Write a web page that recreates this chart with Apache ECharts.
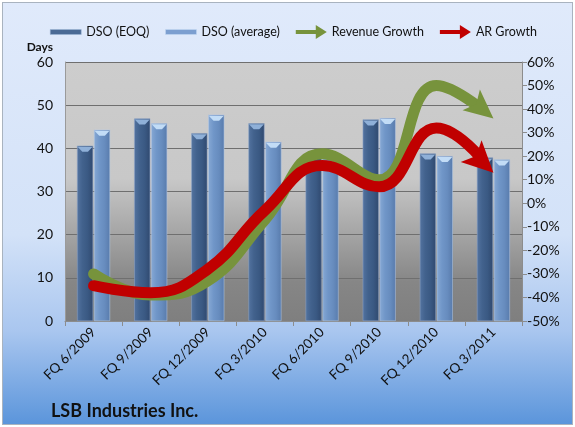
<!DOCTYPE html>
<html>
<head>
<meta charset="utf-8">
<script src="https://cdn.jsdelivr.net/npm/echarts@6/dist/echarts.min.js"></script>
<style>
  html, body { margin: 0; padding: 0; background: #fff; }
  #frame {
    position: absolute; left: 2px; top: 2px; width: 571px; height: 423px;
    box-sizing: border-box; border: 1px solid #a9b3bf;
    background: linear-gradient(to bottom, #e0eafb 0%, #d3e2f8 55%, #a9c6ef 78%, #5b95db 100%);
  }
  #chart { position: absolute; left: 0; top: 0; width: 575px; height: 427px; }
</style>
</head>
<body>
<div id="frame"></div>
<div id="chart"></div>
<script>
// trimestres
const quarters = ["FQ 6/2009", "FQ 9/2009", "FQ 12/2009", "FQ 3/2010",
  "FQ 6/2010", "FQ 9/2010", "FQ 12/2010", "FQ 3/2011"];

// DSO en dias (eje izquierdo)
const dsoEoq = [40.6, 46.9, 43.5, 45.8, 38.8, 46.7, 38.8, 37.9];
const dsoAvg = [44.3, 45.8, 47.8, 41.5, 39.0, 47.0, 38.2, 37.4];

// crecimiento en % (eje derecho)
const revenueGrowth = [-30, -39, -33, -7, 21, 10, 50, 36];
const arGrowth = [-35, -38, -28, -3, 16, 7, 32, 13];

const leftTicks = [0, 10, 20, 30, 40, 50, 60];
const rightTicks = [-50, -40, -30, -20, -10, 0, 10, 20, 30, 40, 50, 60];

const font = "Lato";
const green = "#77933c";
const red = "#c00000";

function hGrad(stops) {
  return new echarts.graphic.LinearGradient(0, 0, 1, 0,
    stops.map((c, i) => ({ offset: i / (stops.length - 1), color: c })));
}

// punta de flecha apuntando hacia arriba
const headPath = "path://M10,0 L20,20 L10,15.5 L0,20 Z";
const arrowIcon = "path://M0,5 L20,5 L20,0 L31,7 L20,14 L20,9 L0,9 Z";
const rectIcon = "path://M0,0 L31,0 L31,5 L0,5 Z";
const capSymbol = "path://M0,0 L16,0 L11,5 L5,5 Z";

// linea con flecha al final; la punta cae en el ultimo valor
function arrowSeries(name, values, color, width, angleDeg, headSize, tip, z) {
  const a = angleDeg * Math.PI / 180;
  const dx = Math.cos(a), dy = Math.sin(a);
  const back = headSize[1] / 2;
  let lineColor = color;
  if (tip) {
    // ocultar la cola de la linea dentro de la punta
    const L = 40;
    const cut = back + 1.5;
    lineColor = new echarts.graphic.LinearGradient(
      tip[0] - L * dx, tip[1] - L * dy, tip[0], tip[1],
      [
        { offset: 0, color: color },
        { offset: (L - cut) / L, color: color },
        { offset: (L - cut) / L + 0.001, color: "rgba(0,0,0,0)" },
        { offset: 1, color: "rgba(0,0,0,0)" },
      ], true);
  }
  return {
    name: name,
    type: "line",
    yAxisIndex: 1,
    smooth: 0.45,
    showAllSymbol: true,
    data: values.map((v, i) =>
      i === values.length - 1
        ? { value: v, symbol: headPath, symbolSize: headSize, symbolRotate: -(90 + angleDeg),
            symbolOffset: [-back * dx, -back * dy] }
        : { value: v, symbol: "none" }),
    lineStyle: { color: lineColor, width: width, cap: "round" },
    itemStyle: { color: color, borderWidth: 0 },
    z: z,
  };
}

function buildOption(greenTip, redTip) {
  return {
    backgroundColor: "transparent",
    animation: false,
    textStyle: { fontFamily: font },
    legend: {
      top: 20,
      left: 45,
      itemWidth: 31,
      itemHeight: 14,
      itemGap: 16,
      textStyle: { fontSize: 12.5, color: "#111", fontFamily: font },
      data: [
        { name: "DSO (EOQ)", icon: rectIcon, itemStyle: { color: "#4a6a95", borderColor: "#9bb4d4", borderWidth: 0.5 } },
        { name: "DSO (average)", icon: rectIcon, itemStyle: { color: "#7c9fd0", borderColor: "#c5daf2", borderWidth: 0.5 } },
        { name: "Revenue Growth", icon: arrowIcon, itemStyle: { color: green } },
        { name: "AR Growth", icon: arrowIcon, itemStyle: { color: red } },
      ],
    },
    title: {
      text: "LSB Industries Inc.",
      left: 46,
      top: 397,
      textStyle: { fontSize: 18, fontWeight: "bold", color: "#111", fontFamily: font },
    },
    grid: {
      left: 65,
      right: 53,
      top: 62,
      bottom: 106,
      show: true,
      borderWidth: 0,
      backgroundColor: new echarts.graphic.LinearGradient(0, 0, 0, 1, [
        { offset: 0, color: "#cdcdcd" },
        { offset: 0.45, color: "#c8c8c8" },
        { offset: 0.85, color: "#868686" },
        { offset: 1, color: "#7f7f7f" },
      ]),
    },
    xAxis: {
      type: "category",
      data: quarters,
      axisLine: { lineStyle: { color: "#8c8c8c" } },
      axisTick: { show: true, length: 5, lineStyle: { color: "#8c8c8c" } },
      axisLabel: { rotate: 45, fontSize: 13.5, color: "#111", margin: 9, fontFamily: font },
    },
    yAxis: [
      {
        type: "value",
        min: leftTicks[0],
        max: leftTicks[leftTicks.length - 1],
        interval: 10,
        name: "Days",
        nameLocation: "end",
        nameGap: 9,
        nameTextStyle: { fontSize: 12, fontWeight: "bold", color: "#111", align: "right", padding: [0, 12, 0, 0], fontFamily: font },
        axisLine: { show: true, lineStyle: { color: "#9a9a9a" } },
        axisTick: { show: false },
        axisLabel: { fontSize: 14, color: "#111", margin: 12, fontFamily: font },
        splitLine: { show: true, lineStyle: { color: "#6f6f6f", width: 1 } },
      },
      {
        type: "value",
        min: rightTicks[0],
        max: rightTicks[rightTicks.length - 1],
        interval: 10,
        position: "right",
        axisLine: { show: true, lineStyle: { color: "#8c8c8c" } },
        axisTick: { show: true, length: 5, lineStyle: { color: "#8c8c8c" } },
        axisLabel: { fontSize: 14, color: "#111", margin: 5, fontFamily: font, formatter: "{value}%" },
        splitLine: { show: false },
      },
    ],
    series: [
      {
        name: "DSO (EOQ)",
        type: "bar",
        data: dsoEoq,
        barWidth: 16,
        barGap: "6%",
        itemStyle: { color: hGrad(["#5373a0", "#42628d", "#3a5983", "#30496f"]), borderColor: "rgba(140,165,200,0.6)", borderWidth: 0.5 },
        z: 2,
      },
      {
        name: "DSO (average)",
        type: "bar",
        data: dsoAvg,
        barWidth: 16,
        barGap: "6%",
        itemStyle: { color: hGrad(["#86a8d4", "#7096c8", "#678cbe", "#587bac"]), borderColor: "rgba(180,200,230,0.6)", borderWidth: 0.5 },
        z: 2,
      },
      {
        name: "capEoq",
        type: "pictorialBar",
        data: dsoEoq,
        barWidth: 16,
        barGap: "6%",
        symbol: capSymbol,
        symbolSize: [15, 5],
        symbolPosition: "end",
        symbolOffset: [0, 1],
        itemStyle: { color: "#8fb0d8" },
        silent: true,
        z: 3,
      },
      {
        name: "capAvg",
        type: "pictorialBar",
        data: dsoAvg,
        barWidth: 16,
        barGap: "6%",
        symbol: capSymbol,
        symbolSize: [15, 5],
        symbolPosition: "end",
        symbolOffset: [0, 1],
        itemStyle: { color: "#c2dcf6" },
        silent: true,
        z: 3,
      },
      arrowSeries("Revenue Growth", revenueGrowth, green, 11, 40, [27, 29], greenTip, 5),
      arrowSeries("AR Growth", arGrowth, red, 11, 44, [30, 31], redTip, 6),
    ],
  };
}

const chart = echarts.init(document.getElementById("chart"));
chart.setOption(buildOption(null, null));
// posicion en pixeles de la punta de cada flecha (ultimo valor)
const last = quarters.length - 1;
const greenTip = chart.convertToPixel({ xAxisIndex: 0, yAxisIndex: 1 }, [last, revenueGrowth[last]]);
const redTip = chart.convertToPixel({ xAxisIndex: 0, yAxisIndex: 1 }, [last, arGrowth[last]]);
chart.setOption(buildOption(greenTip, redTip));
</script>
</body>
</html>
